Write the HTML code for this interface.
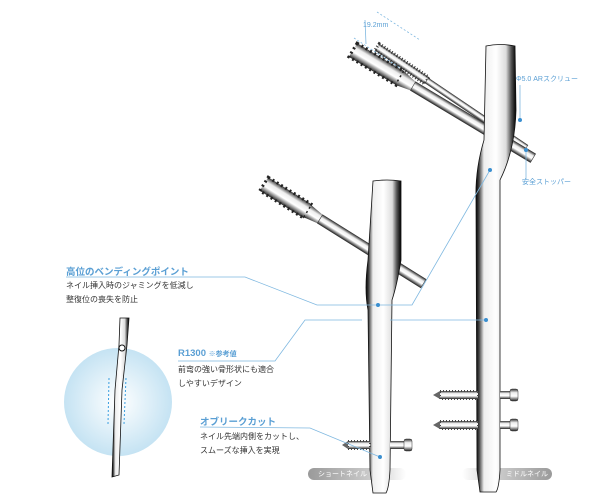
<!DOCTYPE html>
<html><head><meta charset="utf-8"><style>
html,body{margin:0;padding:0;background:#fff;}
body{width:600px;height:500px;overflow:hidden;position:relative;font-family:"Liberation Sans","Noto Sans CJK JP",sans-serif;}
.t{position:absolute;font-size:8px;color:#333;line-height:14px;white-space:nowrap;}
.h{position:absolute;font-size:9.5px;font-weight:bold;color:#5a9fd4;white-space:nowrap;}
.s{position:absolute;font-size:7px;color:#5a9fd4;white-space:nowrap;}
</style></head><body>
<svg width="600" height="500" style="position:absolute;left:0;top:0">
<defs>
<linearGradient id="m" x1="0" x2="1" y1="0" y2="0">
<stop offset="0" stop-color="#000"/><stop offset="0.08" stop-color="#444"/><stop offset="0.2" stop-color="#eee"/><stop offset="0.5" stop-color="#fff"/><stop offset="0.75" stop-color="#ddd"/><stop offset="0.88" stop-color="#555"/><stop offset="1" stop-color="#000"/></linearGradient>
<linearGradient id="sm" x1="0" x2="0" y1="0" y2="1">
<stop offset="0" stop-color="#333"/><stop offset="0.3" stop-color="#eee"/><stop offset="0.6" stop-color="#fff"/><stop offset="1" stop-color="#222"/></linearGradient>
<radialGradient id="c" cx="0.5" cy="0.5" r="0.5"><stop offset="0" stop-color="#fff"/><stop offset="1" stop-color="#c5e3f3"/></radialGradient>
<linearGradient id="p1" x1="0" x2="1"><stop offset="0" stop-color="#9a9a9a"/><stop offset="0.7" stop-color="#cfcfcf"/><stop offset="1" stop-color="#fff"/></linearGradient>
<linearGradient id="p2" x1="0" x2="1"><stop offset="0" stop-color="#fff"/><stop offset="0.35" stop-color="#cfcfcf"/><stop offset="1" stop-color="#9a9a9a"/></linearGradient>
</defs>
<circle cx="118" cy="402" r="54" fill="url(#c)"/>
<line x1="109" y1="378" x2="108" y2="424" stroke="#3a9ee0" stroke-dasharray="2,2"/>
<line x1="126" y1="378" x2="124" y2="424" stroke="#3a9ee0" stroke-dasharray="2,2"/>
<path d="M120 318 L129 318 L127 345 L122 390 L119 475 L112 477 L115 390 L119 345 Z" fill="url(#m)" stroke="#111" stroke-width="0.8"/>
<circle cx="122" cy="348" r="3" fill="#fff" stroke="#111"/>
<rect x="308" y="468" width="98" height="12" rx="6" fill="url(#p1)"/>
<rect x="462" y="468" width="90" height="12" rx="6" fill="url(#p2)"/>
<g transform="translate(377,47) rotate(34)">
<rect x="0" y="-4" width="60" height="8" fill="url(#sm)" stroke="#333" stroke-width="3" stroke-dasharray="1,2"/>
<rect x="60" y="-3" width="120" height="6" fill="url(#sm)" stroke="#333" stroke-width="0.5"/>
</g>
<g transform="translate(353,50) rotate(31)">
<rect x="0" y="-8" width="55" height="16" fill="url(#sm)" stroke="#222" stroke-width="3" stroke-dasharray="2,3"/>
<path d="M55 -8 L70 -5 L70 5 L55 8Z" fill="url(#sm)"/>
<rect x="70" y="-5" width="140" height="10" fill="url(#sm)" stroke="#333" stroke-width="0.6"/>
</g>
<path d="M486 46 Q500 43 515 46 L516 110 Q515 150 500 180 L500 470 Q499 488 496 492 L480 492 L477 470 L476 200 Q475 170 484 140 Z" fill="url(#m)" stroke="#111" stroke-width="0.8"/>
<g>
<rect x="440" y="391" width="38" height="8" fill="url(#sm)" stroke="#444" stroke-width="2" stroke-dasharray="1,2"/><path d="M440 391 L433 395 L440 399Z" fill="#666"/>
<rect x="500" y="391" width="14" height="8" fill="url(#sm)"/><rect x="510" y="389" width="8" height="12" rx="2" fill="url(#sm)" stroke="#333" stroke-width="0.5"/>
<rect x="440" y="421" width="38" height="8" fill="url(#sm)" stroke="#444" stroke-width="2" stroke-dasharray="1,2"/><path d="M440 421 L433 425 L440 429Z" fill="#666"/>
<rect x="500" y="421" width="14" height="8" fill="url(#sm)"/><rect x="510" y="419" width="8" height="12" rx="2" fill="url(#sm)" stroke="#333" stroke-width="0.5"/>
</g>
<g transform="translate(264,184) rotate(32)">
<rect x="0" y="-8" width="52" height="16" fill="url(#sm)" stroke="#222" stroke-width="3" stroke-dasharray="2,3"/>
<path d="M52 -7 L66 -5 L66 5 L52 7Z" fill="url(#sm)"/>
<rect x="66" y="-5" width="122" height="10" fill="url(#sm)" stroke="#333" stroke-width="0.6"/>
</g>
<path d="M373 181 Q387 179 401 181 L401 260 Q397 285 392 300 L390 470 Q389 488 386 493 L373 493 L370 470 L368 310 Q364 290 368 260 Z" fill="url(#m)" stroke="#111" stroke-width="0.8"/>
<rect x="348" y="441" width="22" height="8" fill="url(#sm)" stroke="#444" stroke-width="2" stroke-dasharray="1,2"/><path d="M348 441 L342 445 L348 449Z" fill="#666"/>
<rect x="390" y="441" width="18" height="8" fill="url(#sm)"/><rect x="404" y="439" width="8" height="12" rx="2" fill="url(#sm)" stroke="#333" stroke-width="0.5"/>
<g stroke="#7fb8e0" stroke-width="0.8" fill="none">
<polyline points="66,277 245,277 317,305 412,305 490,170"/>
<polyline points="178,361 275,361 305,320 362,320"/>
<line x1="390" y1="320" x2="487" y2="320"/>
<polyline points="200,427 310,428 380,457"/>
<line x1="520" y1="85" x2="520" y2="120"/>
<line x1="526" y1="150" x2="526" y2="180"/>
<line x1="377" y1="12" x2="420" y2="40" stroke-dasharray="2,2"/>
<line x1="354" y1="38" x2="400" y2="68" stroke-dasharray="2,2"/>
<line x1="365" y1="20" x2="366" y2="44"/>
</g>
<g fill="#3a8fd0"><circle cx="378" cy="305" r="2"/><circle cx="486" cy="320" r="2"/><circle cx="380" cy="457" r="2"/><circle cx="490" cy="170" r="2"/><circle cx="520" cy="120" r="2"/><circle cx="526" cy="150" r="2"/></g>
</svg>
<div class="h" style="left:66px;top:264px">高位のベンディングポイント</div>
<div class="t" style="left:66px;top:279px">ネイル挿入時のジャミングを低減し<br>整復位の喪失を防止</div>
<div class="h" style="left:178px;top:348px">R1300 <span style="font-size:7px">※参考値</span></div>
<div class="t" style="left:178px;top:363px">前弯の強い骨形状にも適合<br>しやすいデザイン</div>
<div class="h" style="left:200px;top:414px">オブリークカット</div>
<div class="t" style="left:200px;top:430px">ネイル先端内側をカットし、<br>スムーズな挿入を実現</div>
<div class="s" style="left:363px;top:22px">19.2mm</div>
<div class="s" style="left:516px;top:74px">Φ5.0 ARスクリュー</div>
<div class="s" style="left:522px;top:177px">安全ストッパー</div>
<div class="s" style="left:318px;top:469px;color:#fff">ショートネイル</div>
<div class="s" style="left:506px;top:469px;color:#fff">ミドルネイル</div>
</body></html>
